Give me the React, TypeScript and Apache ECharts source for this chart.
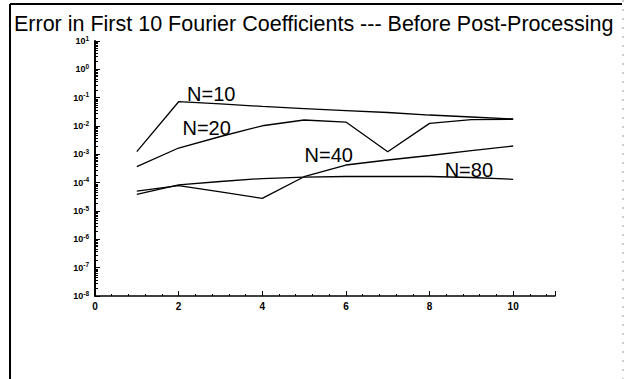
import React, { useEffect, useRef } from "react";
import * as echarts from "echarts";

const xValues = [1, 2, 3, 4, 5, 6, 7, 8, 9, 10];
const n10 = [1.24e-3, 0.072, 0.06, 0.049, 0.041, 0.035, 0.03, 0.0244, 0.0208, 0.0177];
const n20 = [3.66e-4, 1.67e-3, 4.26e-3, 0.0102, 0.0163, 0.0138, 1.24e-3, 0.0124, 0.0169, 0.0172];
const n40 = [5.07e-5, 7.9e-5, 4.7e-5, 2.8e-5, 1.62e-4, 4.2e-4, 6.3e-4, 9.1e-4, 1.36e-3, 1.97e-3];
const n80 = [3.88e-5, 8.3e-5, 1.1e-4, 1.4e-4, 1.58e-4, 1.65e-4, 1.67e-4, 1.65e-4, 1.52e-4, 1.31e-4];
const seriesNames = ["N=10", "N=20", "N=40", "N=80"];
const seriesValues = [n10, n20, n40, n80];
// label anchor points (x, y in data units)
const labelAnchors: [number, number][] = [
  [2.78, 0.14],
  [2.67, 8.85e-3],
  [5.59, 9.1e-4],
  [8.94, 2.69e-4],
];
const titleText = "Error in First 10 Fourier Coefficients --- Before Post-Processing";

const FONT = "'Liberation Sans', Arial, Helvetica, sans-serif";

export default function App() {
  const ref = useRef<HTMLDivElement>(null);
  useEffect(() => {
    if (!ref.current) return;
    const chart = echarts.init(ref.current, null, { renderer: "svg" });
    const series = seriesValues.map((vals, i) => ({
      type: "line",
      name: seriesNames[i],
      data: xValues.map((x, j) => [x, vals[j]]),
      showSymbol: false,
      symbol: "none",
      lineStyle: { color: "#000", width: 1.3 },
      markPoint: {
        symbol: "circle",
        symbolSize: 0,
        label: {
          show: true,
          formatter: seriesNames[i],
          color: "#000",
          fontFamily: FONT,
          fontSize: 20,
          position: "inside",
        },
        data: [{ coord: labelAnchors[i] }],
      },
    }));
    chart.setOption({
      animation: false,
      backgroundColor: "#fff",
      title: {
        text: titleText,
        left: 14,
        top: 12,
        padding: 0,
        textStyle: { fontFamily: FONT, fontSize: 21.5, fontWeight: "normal", color: "#000", lineHeight: 24 },
      },
      grid: { left: 95, right: 72, top: 41, bottom: 83 },
      xAxis: {
        type: "value",
        min: 0,
        max: 11,
        interval: 2,
        splitLine: { show: false },
        axisLine: { lineStyle: { color: "#000", width: 1.5 } },
        axisTick: { inside: true, length: 5, lineStyle: { color: "#000" } },
        minorTick: { show: true, splitNumber: 5, length: 2, lineStyle: { color: "#000" } },
        axisLabel: {
          color: "#000",
          fontFamily: FONT,
          fontWeight: "bold",
          fontSize: 10,
          margin: 5,
          formatter: (v: number) => (v % 2 === 0 ? String(v) : ""),
        },
      },
      yAxis: {
        type: "log",
        logBase: 10,
        min: 1e-8,
        max: 10,
        interval: 1,
        splitLine: { show: false },
        axisLine: { lineStyle: { color: "#000", width: 2 } },
        axisTick: { inside: true, length: 5, lineStyle: { color: "#000" } },
        minorTick: { show: true, splitNumber: 10, length: 3, lineStyle: { color: "#000" } },
        axisLabel: {
          margin: 6,
          formatter: (v: number) => `{b|10}{s|${Math.round(Math.log10(v))}}`,
          rich: {
            b: { fontFamily: FONT, fontWeight: "bold", fontSize: 9, color: "#000" },
            s: { fontFamily: FONT, fontWeight: "bold", fontSize: 6.5, color: "#000", padding: [0, 0, 6, 0] },
          },
        },
      },
      graphic: [
        { type: "line", shape: { x1: 10, y1: 4, x2: 622, y2: 4 }, style: { stroke: "#000", lineWidth: 2 } },
        { type: "line", shape: { x1: 10, y1: 4, x2: 10, y2: 379 }, style: { stroke: "#000", lineWidth: 2 } },
        { type: "line", shape: { x1: 623, y1: 0, x2: 623, y2: 379 }, style: { stroke: "#999", lineWidth: 1, lineDash: [2, 7] } },
      ],
      series,
    });
    return () => chart.dispose();
  }, []);
  return <div ref={ref} style={{ width: 627, height: 379, position: "absolute", left: 0, top: 0 }} />;
}
